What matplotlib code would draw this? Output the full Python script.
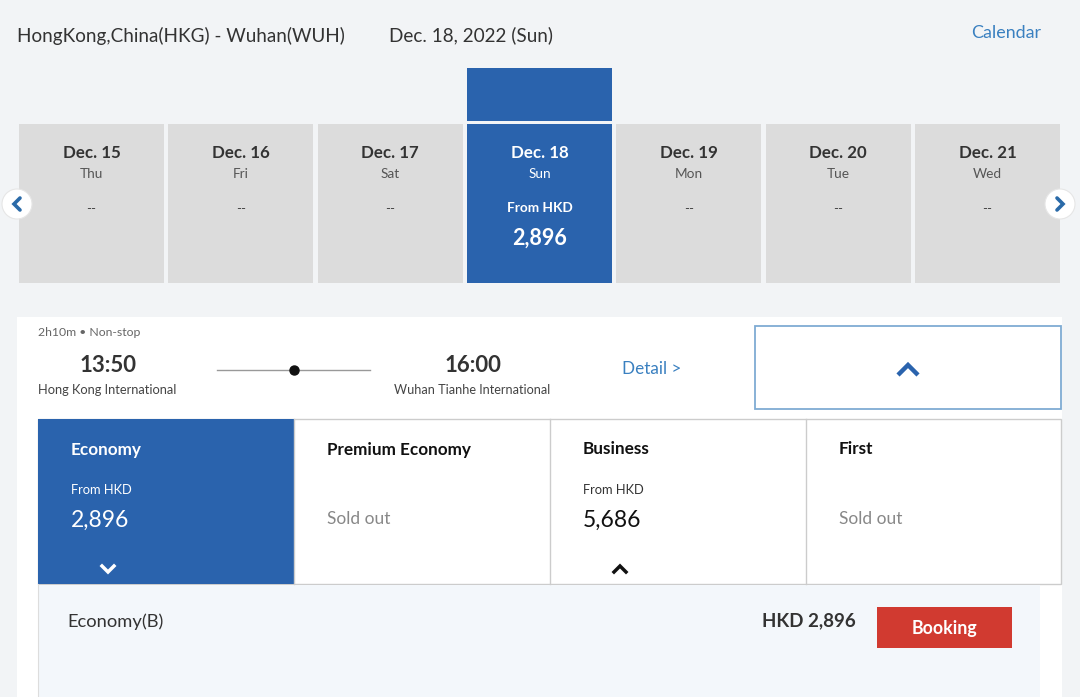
import matplotlib
matplotlib.use("Agg")
import matplotlib.pyplot as plt
from matplotlib.patches import Rectangle, Circle

plt.rcParams['font.family'] = ['Lato', 'DejaVu Sans']

# ---- data ----
route = "HongKong,China(HKG) - Wuhan(WUH)"
travel_date = "Dec. 18, 2022 (Sun)"
dates = ["Dec. 15", "Dec. 16", "Dec. 17", "Dec. 18", "Dec. 19", "Dec. 20", "Dec. 21"]
weekdays = ["Thu", "Fri", "Sat", "Sun", "Mon", "Tue", "Wed"]
date_prices = [None, None, None, "2,896", None, None, None]
selected_idx = 3
dep_time, arr_time = "13:50", "16:00"
dep_airport, arr_airport = "Hong Kong International", "Wuhan Tianhe International"
duration = "2h10m \u2022 Non-stop"
cabins = ["Economy", "Premium Economy", "Business", "First"]
cabin_prices = ["2,896", None, "5,686", None]
fare_name = "Economy(B)"
fare_price = "HKD 2,896"

# ---- style ----
BG = "#f2f4f6"
BLUE = "#2a63ad"
GRAY_CARD = "#dcdcdc"
TXT = "#333333"
LINK = "#3a80c0"
DY = 1.5  # small vertical text nudge

W, H = 1080, 697
fig = plt.figure(figsize=(W / 100, H / 100), dpi=100)
fig.patch.set_facecolor(BG)
ax = fig.add_axes([0, 0, 1, 1])
ax.set_xlim(0, W)
ax.set_ylim(H, 0)
ax.axis("off")


def T(x, y, s, **kw):
    ax.text(x, y + DY, s, va="center", **kw)


# header
T(17, 34, route, fontsize=13.6, color=TXT, ha="left")
T(389, 34, travel_date, fontsize=13.6, color=TXT, ha="left")
T(1041, 32, "Calendar", fontsize=12.9, color=LINK, ha="right")

# date cards
card_w, pitch, x0 = 145, 149.33, 19
top, bot = 124, 283
for i, (d, wd, p) in enumerate(zip(dates, weekdays, date_prices)):
    x = x0 + i * pitch
    sel = i == selected_idx
    ax.add_patch(Rectangle((x, top), card_w, bot - top,
                           facecolor=BLUE if sel else GRAY_CARD, edgecolor="none"))
    cx = x + card_w / 2
    c1 = "white" if sel else "#333333"
    c2 = "white" if sel else "#555555"
    T(cx, 151, d, fontsize=12.2, fontweight="bold", color=c1, ha="center")
    T(cx, 172, wd, fontsize=9.8, color=c2, ha="center")
    if p is None:
        T(cx, 208, "--", fontsize=9.5, color="#444444", ha="center")
    else:
        T(cx, 207, "From HKD", fontsize=9.8, fontweight="bold", color="white", ha="center")
        T(cx, 237, p, fontsize=15.5, fontweight="bold", color="white", ha="center")
    if sel:
        ax.add_patch(Rectangle((x, 68), card_w, 53, facecolor=BLUE, edgecolor="none"))

# nav arrows
for cx, sgn in [(17, -1), (1060, 1)]:
    ax.add_patch(Circle((cx, 204), 15, facecolor="white", edgecolor="#e6e6e6", lw=0.8))
    ax.plot([cx - 3 * sgn, cx + 3 * sgn, cx - 3 * sgn], [198, 204, 210],
            color="#2a6aa8", lw=2.6, solid_capstyle="round", solid_joinstyle="miter")

# flight panel
ax.add_patch(Rectangle((17, 317), 1045, 380, facecolor="white", edgecolor="none"))
T(38, 331, duration, fontsize=8.8, color="#666666", ha="left")
T(108, 364, dep_time, fontsize=16, fontweight="bold", color=TXT, ha="center")
T(38, 389, dep_airport, fontsize=9.3, color="#444444", ha="left")
T(473, 364, arr_time, fontsize=16, fontweight="bold", color=TXT, ha="center")
T(472, 389, arr_airport, fontsize=9.1, color="#444444", ha="center")
ax.plot([217, 370], [370, 370], color="#999999", lw=1)
ax.plot([294], [370], "o", color="#111111", ms=6.5)
T(622, 367, "Detail >", fontsize=12.3, color=LINK, ha="left")

ax.add_patch(Rectangle((755, 326), 306, 83, facecolor="white", edgecolor="#7fabd3", lw=1.3))
ax.plot([898, 908, 918], [375, 365, 375], color=BLUE, lw=3.2,
        solid_capstyle="butt", solid_joinstyle="miter")

# cabin columns
col_x = [38, 294, 550, 806]
col_w = 256
ctop, cbot = 419, 584
ax.add_patch(Rectangle((38, ctop), 1023, cbot - ctop, facecolor="white",
                       edgecolor="#cccccc", lw=1))
for i, (name, p) in enumerate(zip(cabins, cabin_prices)):
    x = col_x[i]
    sel = i == 0
    if sel:
        ax.add_patch(Rectangle((x, ctop), col_w, cbot - ctop, facecolor=BLUE, edgecolor="none"))
    elif i > 0:
        ax.plot([x, x], [ctop, cbot], color="#cccccc", lw=1)
    fg = "white" if sel else "#111111"
    tx = x + 33
    T(tx, 448, name, fontsize=12.3, fontweight="bold", color=fg, ha="left")
    if p is None:
        T(tx, 517, "Sold out", fontsize=12.5, color="#888888", ha="left")
    else:
        T(tx, 488, "From HKD", fontsize=9.3, color=fg if sel else "#333333", ha="left")
        T(tx, 519, p, fontsize=16.5, color=fg, ha="left")
    if sel:
        ax.plot([tx + 31, tx + 37, tx + 43], [566, 572, 566], color="white", lw=2.5,
                solid_joinstyle="miter")
    elif p is not None:
        ax.plot([tx + 31, tx + 37, tx + 43], [572, 566, 572], color="#111111", lw=2.5,
                solid_joinstyle="miter")

# fare detail row
ax.add_patch(Rectangle((38, 584.5), 1002, 113, facecolor="#f3f7fb", edgecolor="none"))
ax.plot([38, 38], [584, 697], color="#dddddd", lw=0.8)
T(67, 620, fare_name, fontsize=13.2, color=TXT, ha="left")
T(856, 619, fare_price, fontsize=13.5, fontweight="bold", color=TXT, ha="right")
ax.add_patch(Rectangle((877, 607), 135, 41, facecolor="#d13a30", edgecolor="none"))
T(944.5, 627, "Booking", fontsize=12.8, fontweight="bold", color="white", ha="center")

fig.savefig("out.png", dpi=100, facecolor=fig.get_facecolor())
